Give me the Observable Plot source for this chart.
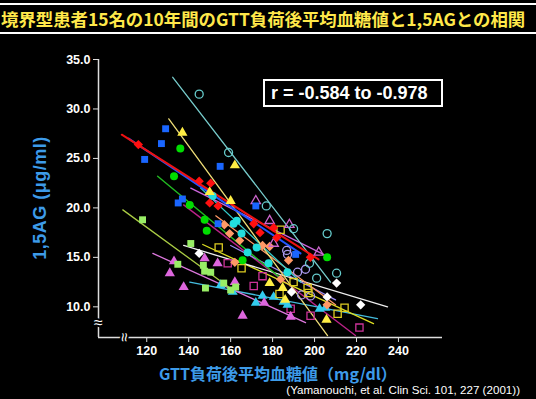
<!DOCTYPE html>
<html><head><meta charset="utf-8">
<script src="https://cdn.jsdelivr.net/npm/d3@7"></script>
<script src="https://cdn.jsdelivr.net/npm/@observablehq/plot@0.6"></script>
<style>
html,body{margin:0;padding:0;background:#000;}
#page{position:relative;width:536px;height:399px;overflow:hidden;background:#000;}
.hl{position:absolute;left:0;width:536px;height:2px;background:#fff;}
#title{position:absolute;left:1px;top:6px;white-space:nowrap;font-family:"Noto Sans CJK JP";font-weight:bold;font-size:17.4px;line-height:26px;color:#ffe84a;letter-spacing:0px;}
#chart{position:absolute;left:0;top:40px;}
#rbox{position:absolute;left:263px;top:79px;width:170px;height:24px;border:2px solid #fff;color:#fff;font-family:"Liberation Sans",Arial,sans-serif;font-weight:bold;font-size:18px;line-height:24px;padding-left:6px;box-sizing:content-box;white-space:nowrap;}
#ylab{position:absolute;left:40px;top:198px;transform:translate(-50%,-50%) rotate(-90deg);white-space:nowrap;font-family:"Liberation Sans",Arial,sans-serif;font-weight:bold;font-size:18px;letter-spacing:0.5px;color:#3d9be9;}
#xlab{position:absolute;left:159px;top:362px;white-space:nowrap;font-family:"Noto Sans CJK JP";font-weight:bold;font-size:16px;line-height:22px;color:#3d9be9;}
#cite{position:absolute;right:16px;top:383px;white-space:nowrap;font-family:"Liberation Sans",Arial,sans-serif;font-size:11.6px;line-height:14px;color:#fff;}
</style>
</head><body>
<div id="page">
  <div class="hl" style="top:3px"></div>
  <div class="hl" style="top:32px"></div>
  <div id="title">境界型患者15名の10年間のGTT負荷後平均血糖値と1,5AGとの相関</div>
  <div id="chart"></div>
  <div id="rbox">r = -0.584 to -0.978</div>
  <div id="ylab">1,5AG (μg/ml)</div>
  <div id="xlab">GTT負荷後平均血糖値（mg/dl）</div>
  <div id="cite">(Yamanouchi, et al. Clin Sci. 101, 227 (2001))</div>
</div>
<script>
// axis settings
const xDomain = [97, 261];
const yDomain = [6.9, 35];
const xTicks = [120, 140, 160, 180, 200, 220, 240];
const yTicks = [10, 15, 20, 25, 30, 35];
const xBreakAt = 109;
const yBreakAt = 8.4;

// patient data: [mean post-GTT glucose, 1,5AG]
const blueSq = [[119,24.9],[127,26.5],[129,28.0],[135,20.5],[137,20.9],[155,24.2],[154,18.4],[172,20.2],[191,15.3]];
const blueSqFit = [[111.4,27.0],[193.3,15.4]];
const redDia = [[116,26.4],[145,22.7],[150.5,22.5],[150,20.5],[154,20.2],[171,18.4],[174,17.5],[180.5,18.0],[182,17.0],[198,15.0]];
const redDiaFit = [[108.1,27.4],[201.9,14.8]];
const greenCir = [[133,23.2],[136,26.0],[140.5,20.3],[147.6,18.8],[148.6,17.7],[165.7,14.7],[206,15.0]];
const greenCirFit = [[125.2,23.2],[183.8,12.9]];
const yellowTri = [[137,27.6],[162,24.3],[150,21.6],[160,20.7],[178.6,12.4],[184.8,11.9],[186,10.7],[205.7,8.7]];
const yellowTriFit = [[130.5,29.0],[206.2,7.1]];
const cyanOpen = [[145,31.5],[159,25.6],[177,20.2],[190,17.9],[206,17.4],[210.5,13.4],[201,12.9],[197.6,14.4]];
const cyanOpenFit = [[132.4,33.2],[207.6,12.5]];
const violetTri = [[133,14.6],[131,13.4],[137.6,12.0],[147.6,14.9],[153.8,14.4],[162,12.5],[165.7,9.1],[176,10.4],[188.6,9.0]];
const violetTriFit = [[122.9,15.4],[195.7,8.4]];
const lgreenSq = [[118,18.8],[134.8,14.3],[141,16.4],[147,14.2],[147.6,13.6],[150.5,13.5],[148,11.9],[156.7,12.4],[160,11.7],[162.4,12.0]];
const lgreenSqFit = [[108.6,19.8],[161.0,11.7]];
const whiteDia = [[145,15.4],[189,11.5],[206,11.0],[210.5,12.4],[222,10.2]];
const whiteDiaFit = [[137.6,16.2],[234.8,10.0]];
const orangeDia = [[157,18.3],[159.5,17.4],[164.3,16.7],[162,14.5],[175.2,16.2],[178.6,16.1],[187.6,14.7],[183.8,12.8],[206,10.2]];
const orangeDiaFit = [[152.9,19.2],[210.0,10.2]];
const cyanCir = [[151.4,21.2],[161.4,18.4],[162.9,18.7],[165.2,17.4],[168.1,15.5],[172.4,16.0],[178.1,14.4],[187.1,13.5]];
const cyanCirFit = [[145.7,22.0],[193.3,12.5]];
const yellowSq = [[154.3,16.0],[165.2,13.9],[183.8,17.8],[190,12.5],[183.3,11.3],[196.7,11.9],[197.1,11.4],[211,9.3],[214.3,9.9]];
const yellowSqFit = [[146.7,16.3],[228.1,8.3]];
const violetOpenTri = [[172,20.7],[178.6,18.7],[188,18.3],[180.5,16.4],[202,15.5]];
const violetOpenTriFit = [[141.0,22.0],[205.2,15.2]];
const cyanTri = [[155.2,12.2],[161,11.5],[172,10.4],[175.2,11.1],[180.5,11.0],[185.2,10.5],[187.1,10.2],[202.4,9.8],[205.2,9.9]];
const cyanTriFit = [[140.5,12.5],[230.0,8.8]];
const magentaSq = [[158.6,14.4],[171,12.1],[175.2,13.1],[188.6,9.8],[198.1,9.1],[221.4,7.9]];
const magentaSqFit = [[137.6,20.3],[219.5,7.1]];
const lavenderCir = [[186.7,15.7],[187.1,15.3],[191.9,13.5],[193.8,11.2],[198.1,11.1],[195.7,13.8]];
const lavenderCirFit = [[160.0,16.2],[210.0,10.7]];

// styles (kept apart from data)
const styles = [
  {pts: magentaSq, fit: magentaSqFit, color: "#cc3399", line: "#bb2288", symbol: "square2", filled: false, r: 4.6, lw: 1.4},
  {pts: lavenderCir, fit: lavenderCirFit, color: "#aa99ee", line: "#9988ee", symbol: "circle", filled: false, r: 4, lw: 1.3},
  {pts: cyanTri, fit: cyanTriFit, color: "#33ccee", line: "#44bbdd", symbol: "triangle", filled: true, r: 3.7, lw: 1.3},
  {pts: yellowSq, fit: yellowSqFit, color: "#ddcc22", line: "#dddd22", symbol: "square2", filled: false, r: 4.6, lw: 1.3},
  {pts: whiteDia, fit: whiteDiaFit, color: "#ffffff", line: "#eeeeee", symbol: "diamond2", filled: true, r: 4.2, lw: 1.3},
  {pts: violetTri, fit: violetTriFit, color: "#dd66dd", line: "#dd77dd", symbol: "triangle", filled: true, r: 3.8, lw: 1.3},
  {pts: lgreenSq, fit: lgreenSqFit, color: "#99ee66", line: "#aacc44", symbol: "square", filled: true, r: 3.9, lw: 1.3},
  {pts: orangeDia, fit: orangeDiaFit, color: "#ff9966", line: "#ff9966", symbol: "diamond2", filled: true, r: 4.2, lw: 1.3},
  {pts: cyanCir, fit: cyanCirFit, color: "#22dddd", line: "#33cccc", symbol: "circle", filled: true, r: 4, lw: 1.3},
  {pts: violetOpenTri, fit: violetOpenTriFit, color: "#cc66cc", line: "#cc66dd", symbol: "triangle2", filled: false, r: 4.5, lw: 1.3},
  {pts: greenCir, fit: greenCirFit, color: "#00dd00", line: "#22bb22", symbol: "circle", filled: true, r: 4, lw: 1.4},
  {pts: cyanOpen, fit: cyanOpenFit, color: "#66cccc", line: "#77cccc", symbol: "circle", filled: false, r: 4, lw: 1.3},
  {pts: yellowTri, fit: yellowTriFit, color: "#ffee44", line: "#eedd77", symbol: "triangle", filled: true, r: 3.8, lw: 1.3},
  {pts: blueSq, fit: blueSqFit, color: "#1a66ff", line: "#2255ff", symbol: "square", filled: true, r: 3.9, lw: 2},
  {pts: redDia, fit: redDiaFit, color: "#ff1010", line: "#ee1111", symbol: "diamond2", filled: true, r: 4.2, lw: 2}
];

const lineMarks = styles.map(s => Plot.line(s.fit, {x: d => d[0], y: d => d[1], stroke: s.line, strokeWidth: s.lw}));
const dotMarks = styles.map(s => Plot.dot(s.pts, {
  x: d => d[0], y: d => d[1], symbol: s.symbol, r: s.r,
  fill: s.filled ? s.color : "none",
  stroke: s.filled ? "none" : s.color,
  strokeWidth: s.filled ? 0 : 1.3
}));

const chart = Plot.plot({
  width: 536, height: 359,
  marginLeft: 98, marginRight: 94, marginTop: 19, marginBottom: 62,
  x: {domain: xDomain},
  y: {domain: yDomain},
  style: {background: "black", color: "white", fontFamily: "'Liberation Sans', Arial, sans-serif", fontSize: "12.5px", fontWeight: "bold", overflow: "visible"},
  marks: [
    ...lineMarks,
    ...dotMarks,
    Plot.ruleX([xDomain[0]], {stroke: "#dddddd", strokeWidth: 1.5}),
    Plot.ruleY([yDomain[0]], {stroke: "#dddddd", strokeWidth: 1.5}),
    Plot.axisX(xTicks, {tickSize: 5, tickPadding: 4, label: null, stroke: "#dddddd", fill: "white", fontWeight: "bold", fontSize: 12.5}),
    Plot.axisY(yTicks, {tickSize: 5, tickPadding: 3, label: null, tickFormat: d => d.toFixed(1), stroke: "#dddddd", fill: "white", fontWeight: "bold", fontSize: 12.5}),
    Plot.text([yBreakAt], {x: () => xDomain[0], y: d => d, text: () => "≈", fill: "white", stroke: "black", strokeWidth: 4, fontSize: 16, fontWeight: "normal"}),
    Plot.text([xBreakAt], {x: d => d, y: () => yDomain[0], text: () => "≈", rotate: 90, fill: "white", stroke: "black", strokeWidth: 4, fontSize: 16, fontWeight: "normal"})
  ]
});
document.getElementById("chart").appendChild(chart);
</script>
</body></html>
